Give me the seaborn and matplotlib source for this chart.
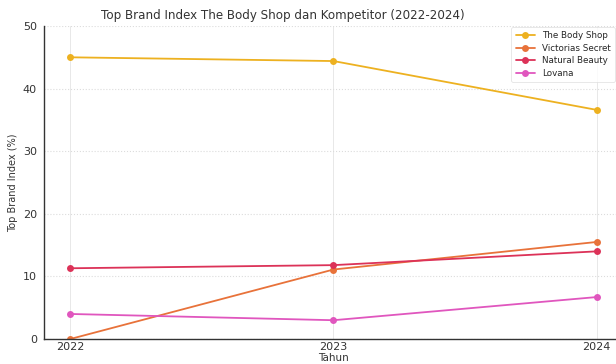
import matplotlib
matplotlib.use("Agg")
import matplotlib.pyplot as plt
import seaborn as sns
import pandas as pd

years = [2022, 2023, 2024]
brands = ["The Body Shop", "Victorias Secret", "Natural Beauty", "Lovana"]
the_body_shop = [45.0, 44.4, 36.6]
victorias_secret = [0.0, 11.1, 15.5]
natural_beauty = [11.3, 11.8, 14.0]
lovana = [4.0, 3.0, 6.7]
colors = ["#EDB120", "#E8723A", "#DC3258", "#E056BE"]

df = pd.DataFrame({
    "Tahun": years * 4,
    "Brand": sum([[b] * 3 for b in brands], []),
    "Index": the_body_shop + victorias_secret + natural_beauty + lovana,
})

sns.set_theme(style="whitegrid")
plt.rcParams["font.family"] = ["DejaVu Sans"]

fig = plt.figure(figsize=(6.16, 3.64), dpi=100)
W, H = 616, 364
left, right, top, bottom = 44, 623, 26, 339
ax = fig.add_axes([left / W, 1 - bottom / H, (right - left) / W, (bottom - top) / H])

sns.lineplot(data=df, x="Tahun", y="Index", hue="Brand", hue_order=brands,
             palette=colors, marker="o", markersize=5, markeredgewidth=0,
             linewidth=1.3, ax=ax)

ax.set_xlim(2021.9, 2024.1)
ax.set_ylim(0, 50)
ax.set_xticks(years)
ax.set_xticklabels([str(y) for y in years])
ax.set_yticks([0, 10, 20, 30, 40, 50])
ax.grid(True, axis="y", color="#dcdcdc", linestyle=":", linewidth=0.8)
ax.grid(True, axis="x", color="#e8e8e8", linestyle="-", linewidth=0.7)
for s in ["top", "right"]:
    ax.spines[s].set_visible(False)
for s in ["left", "bottom"]:
    ax.spines[s].set_color("#333333")
    ax.spines[s].set_linewidth(1.0)
ax.tick_params(axis="both", labelsize=8, colors="#333333", length=3, width=0.8, pad=2)
ax.tick_params(axis="x", length=0)
ax.set_xlabel("Tahun", fontsize=7.5, color="#333333", labelpad=1)
ax.set_ylabel("Top Brand Index (%)", fontsize=7, color="#333333")
ax.yaxis.set_label_coords((18 - left) / (right - left), 0.5)

fig.text(283 / W, 1 - 15 / H, "Top Brand Index The Body Shop dan Kompetitor (2022-2024)",
         ha="center", va="center", fontsize=8.6, color="#333333")

leg = ax.legend(loc="upper right", bbox_to_anchor=((W - left) / (right - left), 1.0),
                fontsize=6.3, frameon=True, borderaxespad=0.1, handlelength=2.2,
                labelspacing=0.4, borderpad=0.5)
leg.get_frame().set_edgecolor("#dddddd")
leg.get_frame().set_linewidth(0.6)
leg.set_title(None)

fig.savefig("out.png", dpi=100)
